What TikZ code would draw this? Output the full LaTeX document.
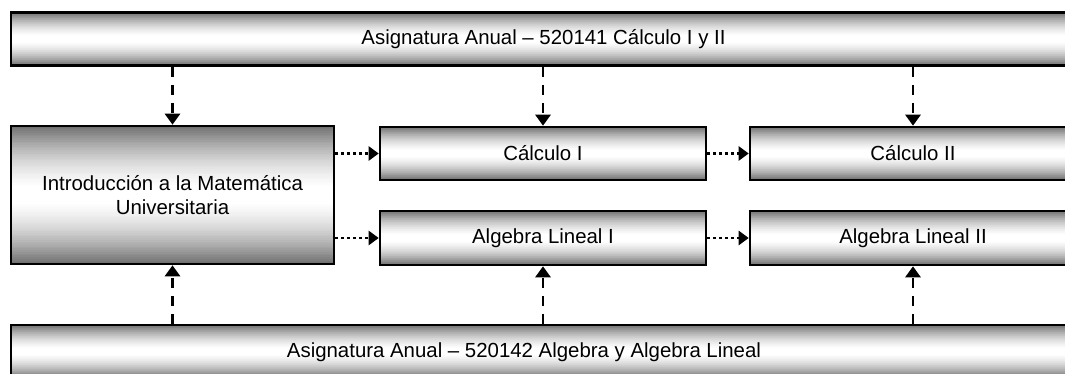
\documentclass[tikz,border=0pt]{standalone}
\usepackage{fontspec}
\setmainfont{Liberation Sans}
\usetikzlibrary{arrows.meta,calc}

\tikzset{
  % vertical metallic fill: grey at the top and bottom edges, white in the middle
  gradfill/.style={path picture={
    \foreach \i in {0,...,79}{
      \pgfmathsetmacro\s{abs((\i+0.5)/40-1)}
      \pgfmathsetmacro\q{max(0,(\s-0.12)/0.88)}
      \pgfmathsetmacro\p{57*\q*(0.45+0.55*\q)}
      \fill[black!\p]
        ($(path picture bounding box.north west)!{\i/80}!(path picture bounding box.south west)$)
        rectangle
        ($(path picture bounding box.north east)!{(\i+1.1)/80}!(path picture bounding box.south east)$);
    }}},
  course/.style={draw=black, line width=2.6pt, gradfill,
    minimum height=53pt, inner sep=0pt,
    font=\fontsize{20.4}{24.8}\selectfont, align=center},
  yearbox/.style={course, minimum width=1065pt},
  termbox/.style={course, minimum width=326pt},
  plain/.style={inner sep=0pt, font=\fontsize{20.4}{24.8}\selectfont},
  dasharrow/.style={line width=2.8pt, dash pattern=on 10pt off 8pt,
    -{Triangle[length=11pt,width=15pt]}},
  dotarrow/.style={line width=2.4pt, dash pattern=on 2.6pt off 3.4pt,
    -{Triangle[length=10pt,width=14pt]}}
}

\begin{document}
\begin{tikzpicture}[x=1pt,y=-1pt]
  \clip (0,0) rectangle (1065,374);
  \fill[white] (0,0) rectangle (1065,374);

  % annual courses
  \node[yearbox] (top) at (543.5,39) {Asignatura Anual -- 520141 Cálculo I y II};
  \node[yearbox] (bottom) at (543.5,351.5) {};
  \node[plain] (bottomlabel) at (524,352) {Asignatura Anual -- 520142 Algebra y Algebra Lineal};

  % semester courses
  \node[course, minimum width=323pt, minimum height=138pt] (intro) at (172.5,195)
    {Introducción a la Matemática\\Universitaria};
  \node[termbox] (c1) at (543,153.5) {Cálculo I};
  \node[termbox] (c2) at (913,153.5) {Cálculo II};
  \node[termbox, minimum height=54pt] (a1) at (543,238) {Algebra Lineal I};
  \node[termbox, minimum height=54pt] (a2) at (913,238) {Algebra Lineal II};

  % annual course feeds its semesters
  \draw[dasharrow] (intro.north |- top.south) -- (intro.north);
  \draw[dasharrow] (c1.north |- top.south) -- (c1.north);
  \draw[dasharrow] (c2.north |- top.south) -- (c2.north);
  \draw[dasharrow] (intro.south |- bottom.north) -- (intro.south);
  \draw[dasharrow] (a1.south |- bottom.north) -- (a1.south);
  \draw[dasharrow] (a2.south |- bottom.north) -- (a2.south);

  % prerequisite chain
  \draw[dotarrow] (intro.east |- c1.west) -- (c1.west);
  \draw[dotarrow] (c1.east) -- (c2.west);
  \draw[dotarrow] (intro.east |- a1.west) -- (a1.west);
  \draw[dotarrow] (a1.east) -- (a2.west);
\end{tikzpicture}
\end{document}
